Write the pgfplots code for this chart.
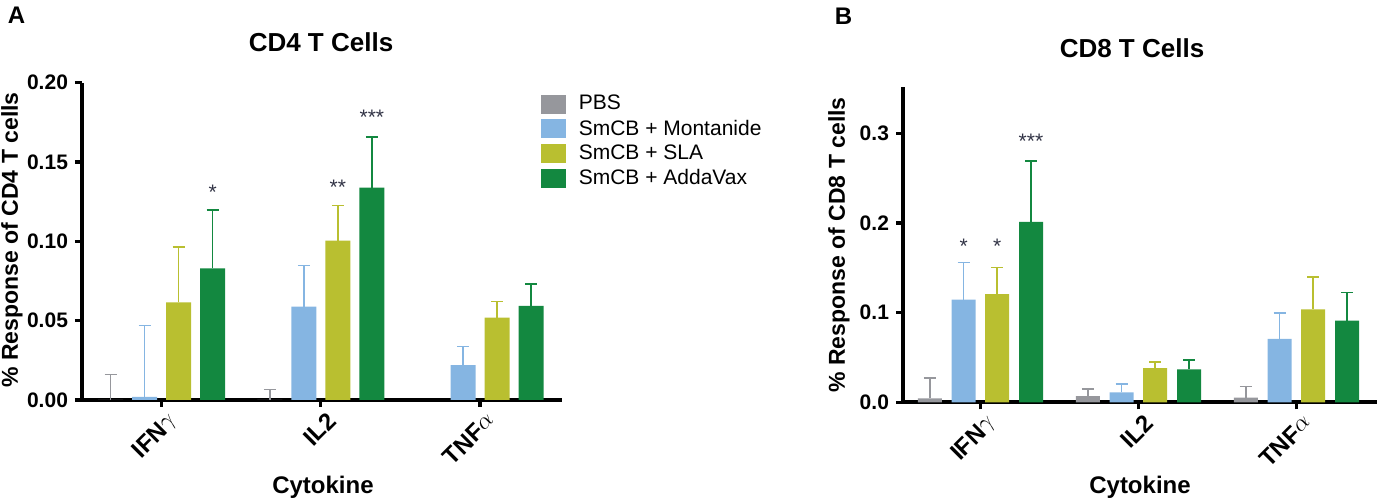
\documentclass[border=0pt]{standalone}
\usepackage{fontspec}
\setmainfont{Liberation Sans}
\usepackage{pgfplots}
\pgfplotsset{compat=1.18}
\definecolor{cPBS}{RGB}{150,151,156}
\definecolor{cMon}{RGB}{133,181,226}
\definecolor{cSLA}{RGB}{185,191,48}
\definecolor{cAdd}{RGB}{19,136,64}
\definecolor{cStar}{RGB}{50,52,70}
\tikzset{sig/.style={font=\fontsize{10.5}{12}\selectfont, text=cStar, inner sep=0pt}}
\pgfplotsset{
  panel/.style={
    scale only axis,
    axis x line*=bottom, axis y line*=left,
    axis line style={line width=1.8pt, black},
    every tick/.style={line width=1.6pt, black},
    tick align=outside,
    major tick length=3.5pt,
    xtick={0,1,2},
    xticklabels={\textbf{IFN}\raisebox{1.5pt}{$\gamma$}, \textbf{IL2}, \textbf{TNF}\raisebox{1.5pt}{$\alpha$}},
    xticklabel style={rotate=45, anchor=north east, font=\fontsize{12}{14}\selectfont, inner sep=1pt, xshift=1.5pt, yshift=-2pt},
    yticklabel style={font=\bfseries\fontsize{10.5}{12}\selectfont},
    /pgf/number format/assume math mode=true,
    ymin=0,
    ybar,
    error bars/y dir=plus, error bars/y explicit,
    clip=false,
  },
  bars/.style={fill=#1, draw=none,
    error bars/error bar style={draw=#1, line width=0.8pt},
    error bars/error mark options={rotate=90, draw=#1, line width=0.8pt, mark size=3pt},
    legend image code/.code={\fill[#1] (0pt,-4.75pt) rectangle (12.5pt,4.75pt); \path (17pt,0pt);}},
}
\begin{document}
\begin{tikzpicture}
\path[use as bounding box] (0,0) rectangle (689pt,250.5pt);
% Panel A
\begin{axis}[panel, at={(41pt,50.5pt)}, anchor=south west,
  width=240pt, height=158.65pt,
  xmin=-0.5, xmax=2.515, ymax=0.2,
  ytick={0,0.05,0.1,0.15,0.2},
  yticklabel style={/pgf/number format/.cd, fixed, fixed zerofill, precision=2},
  bar width=12.5pt,
  legend style={at={(axis description cs:0.9425,0.987)}, anchor=north west,
    draw=none, fill=none, font=\fontsize{10.5}{12.5}\selectfont,
    legend cell align=left, row sep=-0.5pt},
]
\addplot[bars=cPBS, bar shift=-25.5pt] coordinates {(0,0) +- (0,0.016) (1,0) +- (0,0.0067)};
\addplot[bars=cMon, bar shift=-8.5pt] coordinates {(0,0.002) +- (0,0.045) (1,0.0588) +- (0,0.0259) (2,0.0219) +- (0,0.0117)};
\addplot[bars=cSLA, bar shift=8.5pt] coordinates {(0,0.0616) +- (0,0.035) (1,0.1004) +- (0,0.0221) (2,0.0519) +- (0,0.0101)};
\addplot[bars=cAdd, bar shift=25.5pt] coordinates {(0,0.083) +- (0,0.0368) (1,0.1338) +- (0,0.032) (2,0.0593) +- (0,0.0137)};
\legend{PBS, SmCB + Montanide, SmCB + SLA, SmCB + AddaVax}
\node[sig] at (axis cs:0.321,0.1307) {*};
\node[sig] at (axis cs:1.107,0.1339) {**};
\node[sig] at (axis cs:1.321,0.178) {***};
\end{axis}
% Panel B
\begin{axis}[panel, at={(451.5pt,49.35pt)}, anchor=south west,
  width=237pt, height=157.8pt,
  xmin=-0.49, xmax=2.51, ymax=0.352,
  ytick={0,0.1,0.2,0.3},
  yticklabel style={/pgf/number format/.cd, fixed, fixed zerofill, precision=1},
  bar width=12pt,
]
\addplot[bars=cPBS, bar shift=-25.3pt] coordinates {(0,0.0045) +- (0,0.0223) (1,0.007) +- (0,0.0078) (2,0.0052) +- (0,0.0126)};
\addplot[bars=cMon, bar shift=-8.4pt] coordinates {(0,0.1144) +- (0,0.0413) (1,0.011) +- (0,0.0094) (2,0.0706) +- (0,0.0293)};
\addplot[bars=cSLA, bar shift=8.4pt] coordinates {(0,0.1207) +- (0,0.0298) (1,0.0382) +- (0,0.0067) (2,0.1037) +- (0,0.0363)};
\addplot[bars=cAdd, bar shift=25.3pt] coordinates {(0,0.2013) +- (0,0.0677) (1,0.0368) +- (0,0.0104) (2,0.091) +- (0,0.0316)};
\node[sig] at (axis cs:-0.106,0.174) {*};
\node[sig] at (axis cs:0.106,0.174) {*};
\node[sig] at (axis cs:0.32,0.291) {***};
\end{axis}
% Texts
\node[font=\bfseries\fontsize{12}{14}\selectfont] at (8.25pt,242.75pt) {A};
\node[font=\bfseries\fontsize{12}{14}\selectfont] at (421.75pt,242.25pt) {B};
\node[font=\bfseries\fontsize{13}{15}\selectfont] at (160.5pt,229.25pt) {CD4 T Cells};
\node[font=\bfseries\fontsize{13}{15}\selectfont] at (566pt,226.5pt) {CD8 T Cells};
\node[rotate=90, font=\bfseries\fontsize{11.5}{13}\selectfont] at (6pt,130.5pt) {\% Response of CD4 T cells};
\node[rotate=90, font=\bfseries\fontsize{11.5}{13}\selectfont] at (419.5pt,128pt) {\% Response of CD8 T cells};
\node[font=\bfseries\fontsize{12}{14}\selectfont] at (161.5pt,7pt) {Cytokine};
\node[font=\bfseries\fontsize{12}{14}\selectfont] at (570pt,7pt) {Cytokine};
\end{tikzpicture}
\end{document}
